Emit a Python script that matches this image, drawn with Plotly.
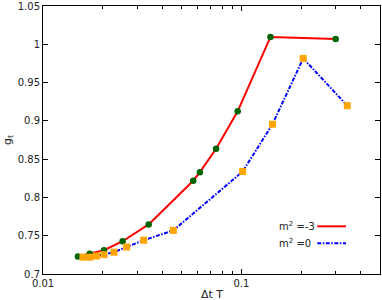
import plotly.graph_objects as go

# Data
dt_m3 = [0.0150, 0.0172, 0.0203, 0.0252, 0.0341, 0.0572, 0.0618, 0.0746, 0.0958, 0.1402, 0.299]
g_m3 = [0.7229, 0.7263, 0.7311, 0.7428, 0.7648, 0.8219, 0.8331, 0.8637, 0.9126, 1.0098, 1.0072]

dt_m0 = [0.0159, 0.0172, 0.0186, 0.0203, 0.0228, 0.0264, 0.0322, 0.0454, 0.1015, 0.1435, 0.205, 0.342]
g_m0 = [0.7220, 0.7220, 0.7236, 0.7253, 0.7285, 0.7353, 0.7441, 0.7570, 0.8339, 0.8957, 0.9817, 0.9200]

legend_labels = ["m<sup>2</sup> =-3", "m<sup>2</sup> =0"]
y_ticks = [0.7, 0.75, 0.8, 0.85, 0.9, 0.95, 1.0, 1.05]
y_ticktext = ["0.7", "0.75", "0.8", "0.85", "0.9", "0.95", "1", "1.05"]
x_ticks = [0.01, 0.1]
x_ticktext = ["0.01", "0.1"]
x_minor = [0.02, 0.03, 0.04, 0.05, 0.06, 0.07, 0.08, 0.09, 0.2, 0.3, 0.4, 0.5]

font = dict(family="DejaVu Sans", size=10, color="#222")
blue_dash = "4px,1.5px,1.5px,1.5px"

fig = go.Figure()
fig.add_trace(go.Scatter(x=dt_m3, y=g_m3, mode="lines", line=dict(color="#ff0000", width=2), showlegend=False))
fig.add_trace(go.Scatter(x=dt_m0, y=g_m0, mode="lines", line=dict(color="#0000ff", width=2, dash=blue_dash), showlegend=False))
fig.add_trace(go.Scatter(x=dt_m3, y=g_m3, mode="markers", marker=dict(color="#006400", size=6.5, symbol="circle"), showlegend=False))
fig.add_trace(go.Scatter(x=dt_m0, y=g_m0, mode="markers", marker=dict(color="#ffa500", size=7, symbol="square"), showlegend=False))

fig.update_layout(
    width=382, height=300,
    margin=dict(l=43, r=1, t=4, b=26),
    plot_bgcolor="white", paper_bgcolor="white",
    font=font,
    xaxis=dict(type="log", range=[-2, -0.301], tickvals=x_ticks, ticktext=x_ticktext,
               ticks="inside", ticklen=5, tickcolor="black", showline=True, linecolor="black",
               linewidth=1, mirror="ticks", showgrid=False, zeroline=False,
               ticklabeloverflow="allow",
               minor=dict(tickvals=x_minor, ticks="inside", ticklen=3, tickcolor="black", showgrid=False),
               tickfont=font),
    yaxis=dict(range=[0.7, 1.0502], tickvals=y_ticks, ticktext=y_ticktext,
               ticks="inside", ticklen=5, tickcolor="black", showline=True, linecolor="black",
               linewidth=1, mirror="ticks", showgrid=False, zeroline=False, tickfont=font,
               ticklabeloverflow="allow"),
)

# Axis titles
fig.add_annotation(text="Δt T", x=0.5, y=0, xref="paper", yref="paper", xanchor="center",
                   yanchor="middle", yshift=-20, showarrow=False, borderpad=0,
                   font=dict(family="DejaVu Sans", size=11, color="#222"))
fig.add_annotation(text="g<sub>t</sub>", x=0, y=0.5, xref="paper", yref="paper", xshift=-35,
                   xanchor="center", yanchor="middle",
                   textangle=-90, showarrow=False, font=dict(family="DejaVu Sans", size=11, color="#222"))

# Legend (text left, sample line right)
legend_colors = ["#ff0000", "#0000ff"]
legend_dash = ["solid", blue_dash]
legend_y = [0.178, 0.115]
for lab, col, dsh, yy in zip(legend_labels, legend_colors, legend_dash, legend_y):
    fig.add_annotation(text=lab, x=0.695, y=yy, xref="paper", yref="paper", xanchor="left",
                       yanchor="middle", showarrow=False, font=font)
    fig.add_shape(type="line", x0=0.814, x1=0.899, y0=yy, y1=yy, xref="paper", yref="paper",
                  line=dict(color=col, width=2, dash=dsh))

fig.write_html("out.html", config={"displayModeBar": False},
               post_script="document.body.style.margin='0';document.body.style.overflow='hidden';")
